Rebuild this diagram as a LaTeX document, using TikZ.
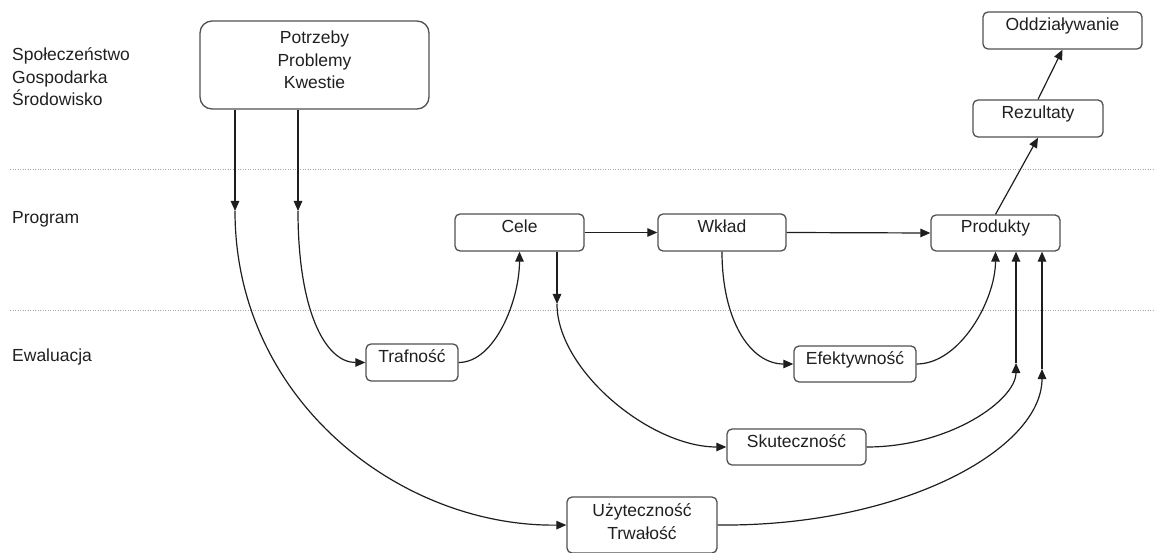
\documentclass[tikz,border=0pt]{standalone}
\usepackage{fontspec}
\setmainfont{Liberation Sans}
\usetikzlibrary{arrows.meta}
\definecolor{boxgray}{HTML}{505050}
\definecolor{linec}{HTML}{1E1E1E}
\definecolor{sepc}{HTML}{A8A8A8}
\definecolor{txt}{HTML}{202020}
\begin{document}
\begin{tikzpicture}[x=1pt,y=-1pt,
  box/.style={draw=boxgray, line width=1.3pt, rounded corners=5pt, inner sep=0pt,
    text height=12pt, text depth=12pt, font=\fontsize{17.5}{22.5}\selectfont, text=txt},
  arr/.style={draw=linec, line width=1.2pt, -{Triangle[length=10pt,width=8.5pt]}},
  sepline/.style={draw=sepc, line width=0.8pt, dash pattern=on 1pt off 1.5pt},
  lbl/.style={font=\fontsize{17.5}{22.5}\selectfont, text=txt, inner sep=0pt, align=left}]
\useasboundingbox (0,0) rectangle (1154,553);

% separators
\draw[sepline] (10,169) -- (1154,169);
\draw[sepline] (10,310) -- (1154,310);

% left labels
\node[lbl, anchor=base west] (spol) at (12,106) {Społeczeństwo\\Gospodarka\\Środowisko};
\node[lbl, anchor=base west] (prog) at (12,224) {Program};
\node[lbl, anchor=base west] (ewal) at (12,361) {Ewaluacja};

% boxes
\node[box, minimum width=229pt, minimum height=88pt, rounded corners=12pt, align=center, text height=57pt, text depth=9pt] (pot) at (314.5,65) {Potrzeby\\Problemy\\Kwestie};
\node[box, minimum width=129pt, minimum height=37pt] (cele) at (519.5,232.5) {Cele};
\node[box, minimum width=128pt, minimum height=37pt] (wklad) at (722,232.5) {Wkład};
\node[box, minimum width=129pt, minimum height=36pt] (prod) at (995.5,233) {Produkty};
\node[box, minimum width=130pt, minimum height=37pt] (rez) at (1038,118.5) {Rezultaty};
\node[box, minimum width=159pt, minimum height=37pt] (odd) at (1062.5,30.5) {Oddziaływanie};
\node[box, minimum width=92pt, minimum height=37pt] (traf) at (412,362.5) {Trafność};
\node[box, minimum width=122pt, minimum height=36pt] (efek) at (855,364) {Efektywność};
\node[box, minimum width=139pt, minimum height=36pt] (skut) at (796.5,447) {Skuteczność};
\node[box, minimum width=150pt, minimum height=56pt, align=center, text height=34.5pt, text depth=6.5pt] (uzy) at (642,525) {Użyteczność\\Trwałość};

% junction points
\coordinate (p1) at (235,211);
\coordinate (p2) at (298,211);
\coordinate (c1) at (557,304);
\coordinate (s1) at (1016,363);
\coordinate (u1) at (1042,369);

% connectors
\draw[arr] (pot.south -| p1) -- (p1);
\draw[arr] (pot.south -| p2) -- (p2);
\draw[arr] (p1) .. controls (235,400) and (400,527) .. (uzy.west);
\draw[arr] (p2) .. controls (298,310) and (325,362.5) .. (traf.west);
\draw[arr] (traf.east) .. controls (495,362.5) and (519.5,300) .. (cele.south);
\draw[arr] (cele.south -| c1) -- (c1);
\draw[arr] (c1) .. controls (557,370) and (650,447) .. (skut.west);
\draw[arr] (cele.east) -- (wklad.west);
\draw[arr] (wklad.east) -- (prod.west);
\draw[arr] (wklad.south) .. controls (722,320) and (750,364) .. (efek.west);
\draw[arr] (efek.east) .. controls (960,364) and (995.5,300) .. (prod.south);
\draw[arr] (skut.east) .. controls (950,447) and (1016,400) .. (s1);
\draw[arr] (s1) -- (s1 |- prod.south);
\draw[arr] (uzy.east) .. controls (900,527) and (1042,450) .. (u1);
\draw[arr] (u1) -- (u1 |- prod.south);
\draw[arr] (prod.north) -- (rez.south);
\draw[arr] (rez.north) -- (odd.south);
\end{tikzpicture}
\end{document}
